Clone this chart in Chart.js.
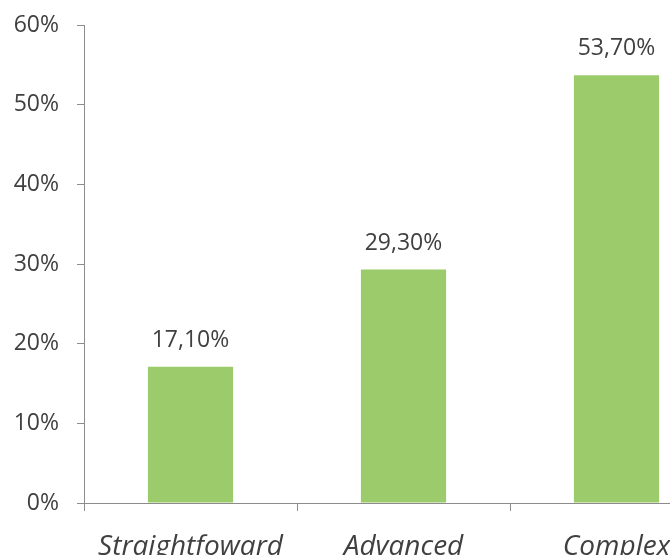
<!DOCTYPE html>
<html>
<head>
<meta charset="utf-8">
<script src="https://cdn.jsdelivr.net/npm/chart.js@4"></script>
<style>
  html, body { margin: 0; padding: 0; background: #fff; overflow: hidden; }
  #wrap { position: absolute; left: 0; top: 0; width: 740px; height: 580px; }
</style>
</head>
<body>
<div id="wrap"><canvas id="complexityChart"></canvas></div>
<script>
// Share of projects per complexity level

const categories = ['Straightfoward', 'Advanced', 'Complex'];
const shares = [17.1, 29.3, 53.7];
const yTicks = [0, 10, 20, 30, 40, 50, 60];

const textColor = '#404040';
const axisColor = '#8c8c8c';
const barColor = '#9bcb6b';

// draws the value above each bar, e.g. "17,10%"
const valueLabels = {
  id: 'valueLabels',
  afterDatasetsDraw(chart) {
    const ctx = chart.ctx;
    const meta = chart.getDatasetMeta(0);
    ctx.save();
    ctx.font = '23px "Open Sans"';
    ctx.fillStyle = textColor;
    ctx.textAlign = 'center';
    ctx.textBaseline = 'alphabetic';
    meta.data.forEach((bar, i) => {
      const text = shares[i].toFixed(2).replace('.', ',') + '%';
      ctx.fillText(text, bar.x, bar.y - 20);
    });
    ctx.restore();
  }
};

const ctx = document.getElementById('complexityChart').getContext('2d');
new Chart(ctx, {
  type: 'bar',
  data: {
    labels: categories,
    datasets: [{
      data: shares,
      backgroundColor: barColor,
      borderWidth: 0,
      categoryPercentage: 1,
      barPercentage: 0.4
    }]
  },
  options: {
    responsive: true,
    maintainAspectRatio: false,
    animation: false,
    layout: { padding: { top: 25, right: 17, left: 0, bottom: 0 } },
    plugins: {
      legend: { display: false },
      tooltip: { enabled: false }
    },
    scales: {
      x: {
        grid: {
          display: true,
          drawOnChartArea: false,
          drawTicks: true,
          tickLength: 8,
          color: axisColor,
          offset: true
        },
        border: { color: axisColor, width: 1 },
        ticks: {
          color: textColor,
          padding: 19,
          maxRotation: 0,
          autoSkip: false,
          font: { family: 'Open Sans', size: 28, style: 'italic' }
        },
        afterFit(scale) {
          scale.height = 77;
          scale.paddingLeft = 0;
          scale.paddingRight = 0;
        }
      },
      y: {
        min: 0,
        max: 60,
        afterBuildTicks(scale) {
          scale.ticks = yTicks.map(v => ({ value: v }));
        },
        grid: {
          display: true,
          drawOnChartArea: false,
          drawTicks: true,
          tickLength: 7,
          color: axisColor
        },
        border: { color: axisColor, width: 1 },
        ticks: {
          color: textColor,
          padding: 18,
          font: { family: 'Open Sans', size: 23 },
          callback: function(value) {
            return value + '%';
          }
        },
        afterFit(scale) {
          scale.width = 84;
          scale.paddingTop = 0;
          scale.paddingBottom = 0;
        }
      }
    }
  },
  plugins: [valueLabels]
});
</script>
</body>
</html>
